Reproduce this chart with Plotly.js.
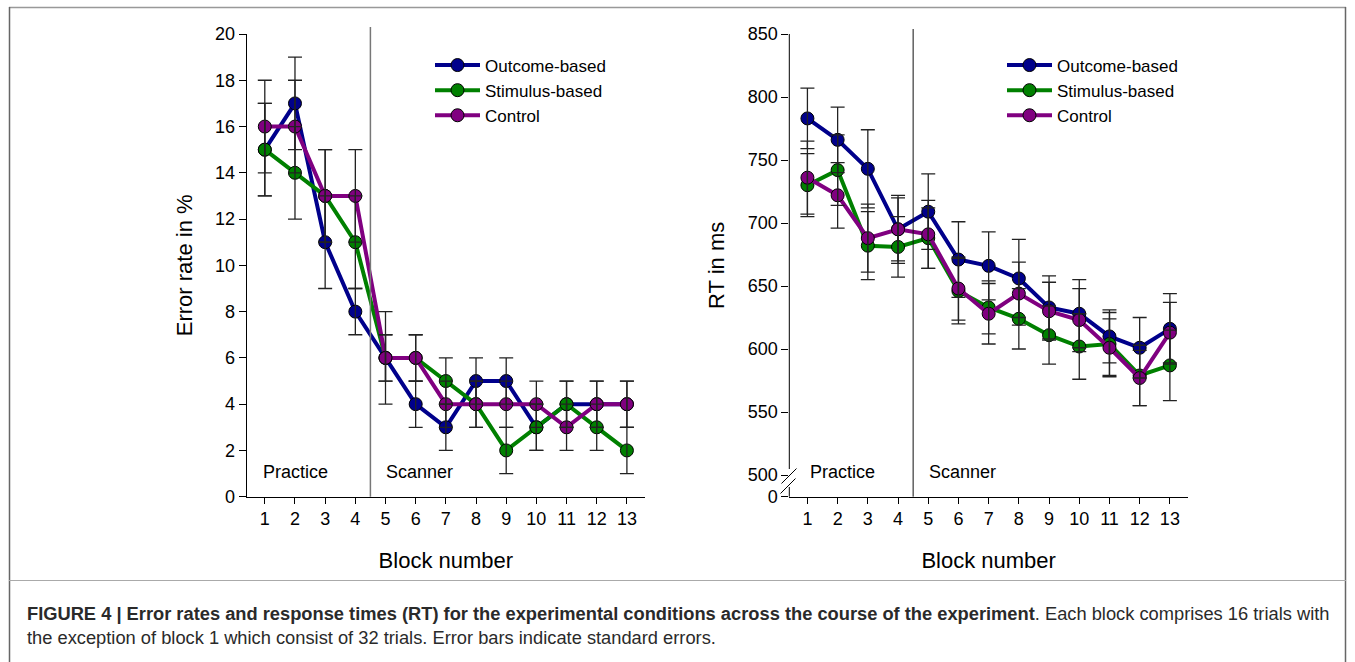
<!DOCTYPE html>
<html>
<head>
<meta charset="utf-8">
<script src="https://cdn.plot.ly/plotly-3.0.1.min.js"></script>
<style>html,body{margin:0;padding:0;background:#fff;}#chart{width:1355px;height:662px;}</style>
</head>
<body>
<div id="chart"></div>
<script>
// ---- data ----
const blocks = [1,2,3,4,5,6,7,8,9,10,11,12,13];
const seriesNames = ['Outcome-based','Stimulus-based','Control'];

const errOutcome   = [15,17,11,8,6,4,3,5,5,3,4,4,4];
const errOutcomeSE = [2,2,2,1,2,1,1,1,1,1,1,1,1];
const errStimulus   = [15,14,13,11,6,6,5,4,2,3,4,3,2];
const errStimulusSE = [2,2,2,2,1,1,1,1,1,1,1,1,1];
const errControl   = [16,16,13,13,6,6,4,4,4,4,3,4,4];
const errControlSE = [2,2,2,2,1,1,1,1,1,1,1,1,1];

const rtOutcome   = [783,766,743,695,709,671,666,656,633,628,610,601,616];
const rtOutcomeSE = [24,26,31,25,30,30,27,31,25,27,21,24,28];
const rtStimulus   = [730,742,682,681,688,646,633,624,611,602,604,579,587];
const rtStimulusSE = [25,28,27,24,24,26,21,24,23,26,25,24,28];
const rtControl   = [736,722,688,695,691,648,628,644,630,623,601,577,613];
const rtControlSE = [29,26,27,27,27,25,24,25,23,25,23,22,24];

const errTickVals = [0,2,4,6,8,10,12,14,16,18,20];
const rtTickVals = [482.8,500,550,600,650,700,750,800,850];
const rtTickText = ['0','500','550','600','650','700','750','800','850'];
const phaseDivider = 4.5;

// ---- styling ----
const W = 1355, H = 662;
const px = v => v / W;
const py = v => 1 - v / H;
const colors = ['#00008b','#008000','#800080'];
const FONT = 'Liberation Sans, Arial, sans-serif';

function lineTrace(x, y, name, color, xa, ya, legend, show) {
  return {
    x: x, y: y, name: name, type: 'scatter', mode: 'lines+markers',
    xaxis: xa, yaxis: ya, legend: legend, showlegend: show,
    line: {color: color, width: 4},
    marker: {color: color, size: 13, line: {color: '#000', width: 1}},
    hoverinfo: 'x+y+name'
  };
}
function errTrace(x, y, e, xa, ya) {
  return {
    x: x, y: y, type: 'scatter', mode: 'markers', xaxis: xa, yaxis: ya,
    showlegend: false, hoverinfo: 'skip',
    marker: {opacity: 0, size: 1},
    error_y: {type: 'data', array: e, visible: true, color: '#222', thickness: 1.3, width: 7}
  };
}

const leftVals = [errOutcome, errStimulus, errControl];
const leftSE = [errOutcomeSE, errStimulusSE, errControlSE];
const rightVals = [rtOutcome, rtStimulus, rtControl];
const rightSE = [rtOutcomeSE, rtStimulusSE, rtControlSE];

const traces = [];
for (let i = 0; i < 3; i++) traces.push(lineTrace(blocks, leftVals[i], seriesNames[i], colors[i], 'x', 'y', 'legend', true));
for (let i = 0; i < 3; i++) traces.push(errTrace(blocks, leftVals[i], leftSE[i], 'x', 'y'));
for (let i = 0; i < 3; i++) traces.push(lineTrace(blocks, rightVals[i], seriesNames[i], colors[i], 'x2', 'y2', 'legend2', true));
for (let i = 0; i < 3; i++) traces.push(errTrace(blocks, rightVals[i], rightSE[i], 'x2', 'y2'));

const axisBase = {
  showgrid: false, zeroline: false, ticks: 'outside', tickcolor: '#000', tickwidth: 1,
  tickfont: {family: FONT, size: 18, color: '#000'}, linecolor: '#000', linewidth: 1
};
const xBase = Object.assign({}, axisBase, {
  range: [0.4, 13.6], tickmode: 'array', tickvals: blocks, ticklen: 6, showline: true,
  title: {text: 'Block number', font: {family: FONT, size: 22, color: '#000'}, standoff: 24}
});

const layout = {
  width: W, height: H, margin: {l: 0, r: 0, t: 0, b: 0},
  paper_bgcolor: '#fff', plot_bgcolor: '#fff',
  font: {family: FONT, color: '#000'},
  xaxis: Object.assign({}, xBase, {domain: [px(246.7), px(645)], anchor: 'y'}),
  xaxis2: Object.assign({}, xBase, {domain: [px(789.3), px(1188)], anchor: 'y2'}),
  yaxis: Object.assign({}, axisBase, {
    domain: [py(496.7), py(34)], anchor: 'x', range: [0, 20], tickmode: 'array', tickvals: errTickVals,
    ticklen: 7, showline: true,
    title: {text: 'Error rate in %', font: {family: FONT, size: 22, color: '#000'}, standoff: 16}
  }),
  yaxis2: Object.assign({}, axisBase, {
    domain: [py(496.7), py(34)], anchor: 'x2', range: [482.8, 850], tickmode: 'array',
    tickvals: rtTickVals, ticktext: rtTickText, ticklen: 7, showline: false,
    title: {text: 'RT in ms', font: {family: FONT, size: 22, color: '#000'}, standoff: 16}
  }),
  legend: {x: px(430), y: py(47.5), xanchor: 'left', yanchor: 'top', bgcolor: 'rgba(0,0,0,0)',
           font: {family: FONT, size: 17, color: '#000'}, itemwidth: 45, tracegroupgap: 0},
  legend2: {x: px(1002), y: py(47.5), xanchor: 'left', yanchor: 'top', bgcolor: 'rgba(0,0,0,0)',
           font: {family: FONT, size: 17, color: '#000'}, itemwidth: 45, tracegroupgap: 0},
  shapes: [
    // phase dividers
    {type: 'line', xref: 'x', yref: 'paper', x0: phaseDivider, x1: phaseDivider, y0: py(496.7), y1: py(27), line: {color: '#777', width: 1.5}},
    {type: 'line', xref: 'x2', yref: 'paper', x0: phaseDivider, x1: phaseDivider, y0: py(496.7), y1: py(29), line: {color: '#111', width: 1}},
    // right y axis line with break
    {type: 'line', xref: 'paper', yref: 'paper', x0: px(789.3), x1: px(789.3), y0: py(34), y1: py(469), line: {color: '#000', width: 1}},
    {type: 'line', xref: 'paper', yref: 'paper', x0: px(789.3), x1: px(789.3), y0: py(487), y1: py(496.7), line: {color: '#000', width: 1}},
    {type: 'line', xref: 'paper', yref: 'paper', x0: px(781.5), x1: px(796.5), y0: py(483.5), y1: py(468.5), line: {color: '#000', width: 1}},
    {type: 'line', xref: 'paper', yref: 'paper', x0: px(780.5), x1: px(795.5), y0: py(493.5), y1: py(478.5), line: {color: '#000', width: 1}},
    // figure frame
    {type: 'line', xref: 'paper', yref: 'paper', x0: px(9), x1: px(1346), y0: py(7.5), y1: py(7.5), line: {color: '#999', width: 1.5}},
    {type: 'line', xref: 'paper', yref: 'paper', x0: px(9.5), x1: px(9.5), y0: py(7), y1: py(662), line: {color: '#666', width: 1.5}},
    {type: 'line', xref: 'paper', yref: 'paper', x0: px(1345.5), x1: px(1345.5), y0: py(7), y1: py(662), line: {color: '#666', width: 1.5}},
    {type: 'line', xref: 'paper', yref: 'paper', x0: px(9), x1: px(1346), y0: py(580.5), y1: py(580.5), line: {color: '#aaa', width: 1}}
  ],
  annotations: [
    {xref: 'paper', yref: 'paper', x: px(261), y: py(472), xanchor: 'left', yanchor: 'middle', showarrow: false, text: 'Practice', font: {family: FONT, size: 18, color: '#000'}},
    {xref: 'paper', yref: 'paper', x: px(384), y: py(472), xanchor: 'left', yanchor: 'middle', showarrow: false, text: 'Scanner', font: {family: FONT, size: 18, color: '#000'}},
    {xref: 'paper', yref: 'paper', x: px(808), y: py(472), xanchor: 'left', yanchor: 'middle', showarrow: false, text: 'Practice', font: {family: FONT, size: 18, color: '#000'}},
    {xref: 'paper', yref: 'paper', x: px(927), y: py(472), xanchor: 'left', yanchor: 'middle', showarrow: false, text: 'Scanner', font: {family: FONT, size: 18, color: '#000'}},
    {xref: 'paper', yref: 'paper', x: px(25), y: py(613), xanchor: 'left', yanchor: 'middle', showarrow: false, align: 'left',
     text: '<b>FIGURE 4 | Error rates and response times (RT) for the experimental conditions across the course of the experiment</b>. Each block comprises 16 trials with',
     font: {family: FONT, size: 18.3, color: '#2a2a2a'}},
    {xref: 'paper', yref: 'paper', x: px(25), y: py(637), xanchor: 'left', yanchor: 'middle', showarrow: false, align: 'left',
     text: 'the exception of block 1 which consist of 32 trials. Error bars indicate standard errors.',
     font: {family: FONT, size: 18.3, color: '#2a2a2a'}}
  ]
};

Plotly.newPlot('chart', traces, layout, {displayModeBar: false, staticPlot: true});
</script>
</body>
</html>
